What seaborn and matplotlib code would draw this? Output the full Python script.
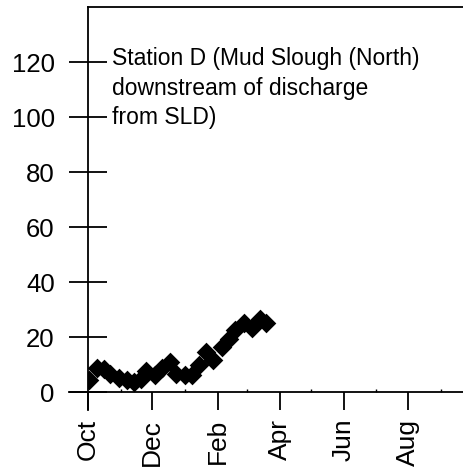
import numpy as np
import pandas as pd
import matplotlib
matplotlib.use('Agg')
import matplotlib.pyplot as plt
import matplotlib.dates as mdates
import seaborn as sns

# sample dates and values
dates = ['2000-10-02', '2000-10-10', '2000-10-16', '2000-10-22', '2000-10-30',
         '2000-11-07', '2000-11-14', '2000-11-20', '2000-11-25', '2000-12-04',
         '2000-12-10', '2000-12-18', '2000-12-24', '2001-01-01', '2001-01-08',
         '2001-01-14', '2001-01-21', '2001-01-28', '2001-02-05', '2001-02-12',
         '2001-02-18', '2001-02-26', '2001-03-06', '2001-03-13', '2001-03-19']
values = [4.6, 9.0, 8.6, 6.8, 5.2,
          4.6, 3.8, 5.0, 7.8, 6.4,
          9.0, 11.0, 6.8, 6.2, 6.2,
          9.8, 14.7, 11.9, 16.5, 19.5,
          22.8, 25.0, 23.2, 26.8, 25.0]
y_ticks = [0, 20, 40, 60, 80, 100, 120]
label = 'Station D (Mud Slough (North)\ndownstream of discharge\nfrom SLD)'

df = pd.DataFrame({'date': pd.to_datetime(dates), 'value': values})

sns.set_style('white')
plt.rcParams['font.family'] = ['Liberation Sans', 'DejaVu Sans']
plt.rcParams['text.color'] = 'black'

fig = plt.figure(figsize=(4.63, 4.72), dpi=100)
ax = fig.add_axes([0.19, 0.131, 0.81, 0.854])

sns.scatterplot(data=df, x='date', y='value', marker='D', color='black',
                s=100, edgecolor='black', linewidth=0, ax=ax, legend=False, zorder=3)

ax.set_xlim(pd.Timestamp('2000-10-01'), pd.Timestamp('2000-10-01') + pd.Timedelta(days=356))
ax.set_ylim(-6.5, 140)

ax.spines['right'].set_visible(False)
for side in ['left', 'top', 'bottom']:
    ax.spines[side].set_color('black')
    ax.spines[side].set_linewidth(1.3)
ax.spines['bottom'].set_position(('data', 0))
ax.spines['bottom'].set_bounds(ax.get_xlim()[0] - 18, ax.get_xlim()[1])

ax.xaxis.set_major_locator(mdates.MonthLocator(bymonth=[10, 12, 2, 4, 6, 8]))
ax.xaxis.set_major_formatter(mdates.DateFormatter('%b'))
ax.xaxis.set_minor_locator(mdates.MonthLocator())
ax.set_yticks(y_ticks)

ax.tick_params(axis='x', which='both', bottom=True)
ax.tick_params(axis='y', which='major', left=True)
ax.tick_params(axis='x', which='major', direction='out', length=13, width=1.3,
               labelsize=19, labelrotation=90, pad=6, colors='black')
ax.tick_params(axis='x', which='minor', direction='in', length=2.5, width=1, colors='black')
ax.tick_params(axis='y', which='major', direction='inout', length=28, width=1.3,
               labelsize=18.5, pad=10, colors='black')

ax.set_xlabel('')
ax.set_ylabel('')

ax.text(0.065, 0.9, label, transform=ax.transAxes, fontsize=16.5, color='black',
        va='top', ha='left', linespacing=1.35)

fig.savefig('out.png', dpi=100)
